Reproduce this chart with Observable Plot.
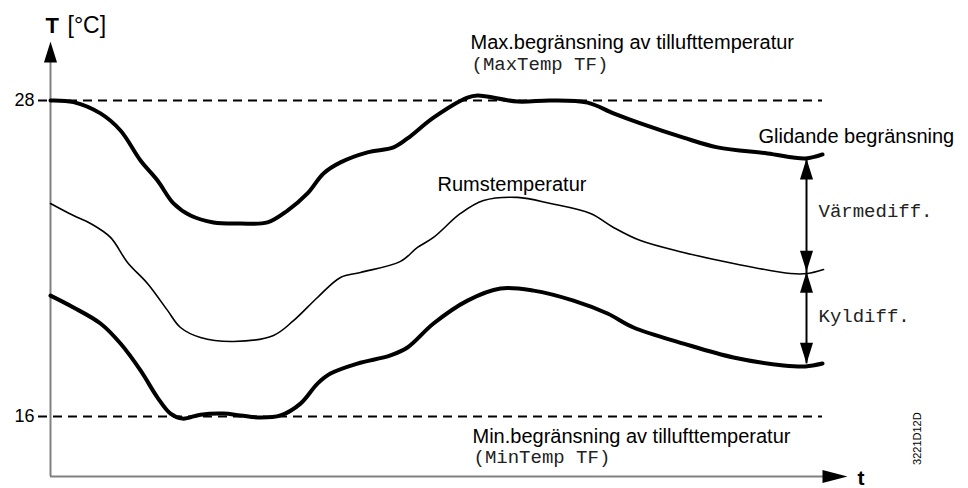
<!DOCTYPE html>
<html>
<head>
<meta charset="utf-8">
<script src="https://cdn.jsdelivr.net/npm/d3@7"></script>
<script src="https://cdn.jsdelivr.net/npm/@observablehq/plot@0.6"></script>
<style>
  body { margin: 0; background: #fff; }
  #chart svg { display: block; }
</style>
</head>
<body>
<div id="chart"></div>
<script>
// ---- Data (time t in arbitrary units, temperature T in °C) ----
const upperTime = [0, 2.3, 5.0, 7.0, 9.0, 10.7, 12.3, 14.0, 16.3, 19.0, 21.7, 23.7, 25.7, 27.3, 29.0, 31.7, 34.3, 35.7, 38.3, 41.7, 42.7, 46.7, 50.0, 53.7, 56.3, 59.0, 63.3, 66.7, 71.7, 75.5, 77.2];
const upperTemp = [28.0, 27.94, 27.51, 26.86, 25.72, 24.96, 24.09, 23.63, 23.37, 23.33, 23.37, 23.82, 24.47, 25.23, 25.65, 26.03, 26.22, 26.56, 27.35, 28.11, 28.19, 27.96, 28.0, 27.92, 27.51, 27.13, 26.59, 26.22, 25.99, 25.80, 25.95];

const roomTime = [0, 2.3, 4.0, 6.0, 7.7, 9.7, 11.7, 13.0, 15.0, 18.3, 22.3, 24.3, 26.7, 29.0, 31.0, 35.0, 36.7, 38.3, 41.0, 43.3, 46.7, 50.0, 54.0, 56.3, 59.0, 63.3, 68.3, 74.0, 75.7, 77.3];
const roomTemp = [24.09, 23.63, 23.33, 22.80, 21.85, 21.05, 20.03, 19.38, 19.00, 18.85, 19.08, 19.64, 20.52, 21.28, 21.47, 21.89, 22.42, 22.80, 23.71, 24.20, 24.32, 24.09, 23.71, 23.18, 22.68, 22.23, 21.81, 21.43, 21.43, 21.58];

const lowerTime = [0, 2.3, 5.0, 7.0, 9.0, 10.7, 12.0, 13.2, 15.0, 17.3, 19.0, 21.0, 23.0, 25.0, 26.7, 28.0, 30.7, 34.0, 35.7, 38.3, 41.7, 45.0, 48.3, 52.3, 55.7, 58.3, 63.3, 68.3, 73.3, 75.5, 77.2];
const lowerTemp = [20.59, 20.14, 19.53, 18.77, 17.75, 16.72, 16.11, 15.92, 16.07, 16.11, 16.04, 15.96, 16.04, 16.49, 17.25, 17.63, 18.01, 18.32, 18.62, 19.53, 20.40, 20.86, 20.78, 20.40, 19.91, 19.38, 18.77, 18.24, 17.94, 17.90, 18.01];

const limitTemps = [16, 28];          // MinTemp TF / MaxTemp TF
const yTickLabels = [16, 28];
const diffArrowTime = 75.6;
const diffArrowTemps = [25.8, 21.5, 18.0]; // upper limit, room temp, lower limit

const labelMax = "Max.begränsning av tillufttemperatur";
const labelMaxParam = "(MaxTemp TF)";
const labelMin = "Min.begränsning av tillufttemperatur";
const labelMinParam = "(MinTemp TF)";
const labelSliding = "Glidande begränsning";
const labelRoom = "Rumstemperatur";
const labelHeat = "Värmediff.";
const labelCool = "Kyldiff.";
const labelYAxisBold = "T";
const labelYAxisUnit = "[°C]";
const labelXAxis = "t";
const labelDocId = "3221D12D";

// ---- Build tables ----
const thickRows = [
  ...upperTime.map((t, i) => ({series: "upper", t, T: upperTemp[i]})),
  ...lowerTime.map((t, i) => ({series: "lower", t, T: lowerTemp[i]}))
];
const roomRows = roomTime.map((t, i) => ({t, T: roomTemp[i]}));

// ---- Arrowhead symbols (tip at anchor) ----
const arrowUp = {draw(c) { c.moveTo(0, 0); c.lineTo(6.5, 21); c.lineTo(-6.5, 21); c.closePath(); }};
const arrowDown = {draw(c) { c.moveTo(0, 0); c.lineTo(6.5, -21); c.lineTo(-6.5, -21); c.closePath(); }};
const arrowRight = {draw(c) { c.moveTo(0, 0); c.lineTo(-25, 6.5); c.lineTo(-25, -6.5); c.closePath(); }};

const sans = "'Liberation Sans', Arial, sans-serif";
const mono = "'Liberation Mono', 'Courier New', monospace";

const chart = Plot.plot({
  width: 968,
  height: 488,
  marginLeft: 50,
  marginRight: 0,
  marginTop: 0,
  marginBottom: 0,
  x: {domain: [0, 79], range: [50, 840], axis: null},
  y: {domain: [16, 28], range: [416, 100], axis: null},
  style: {fontFamily: sans, background: "#fff", color: "#000", overflow: "visible"},
  marks: [
    // dashed limit lines
    Plot.ruleY(limitTemps, {x1: -1.2, x2: 77.2, stroke: "#000", strokeWidth: 2, strokeDasharray: "9,6"}),
    // axis lines
    Plot.ruleX([0], {y1: 13.72, y2: 30.0, stroke: "#808080", strokeWidth: 2}),
    Plot.ruleY([13.72], {x1: 0, x2: 79.2, stroke: "#808080", strokeWidth: 2}),
    Plot.dot([{t: 0, T: 30.24}], {x: "t", y: "T", symbol: arrowUp, fill: "#000", stroke: null}),
    Plot.dot([{t: 79.7, T: 13.72}], {x: "t", y: "T", symbol: arrowRight, fill: "#000", stroke: null}),
    // y tick labels
    Plot.axisY(yTickLabels, {anchor: "left", tickSize: 0, tickPadding: 16, fontSize: 18, label: null, fill: "#000"}),
    // curves
    Plot.line(thickRows, {x: "t", y: "T", z: "series", stroke: "#000", strokeWidth: 4, curve: "catmull-rom", strokeLinejoin: "round", strokeLinecap: "round"}),
    Plot.line(roomRows, {x: "t", y: "T", stroke: "#000", strokeWidth: 1.6, curve: "catmull-rom"}),
    // difference arrows
    Plot.ruleX([diffArrowTime], {y1: diffArrowTemps[0], y2: diffArrowTemps[2], stroke: "#000", strokeWidth: 2}),
    Plot.dot([diffArrowTemps[0], diffArrowTemps[1]], {x: () => diffArrowTime, y: d => d, symbol: arrowUp, fill: "#000", stroke: null}),
    Plot.dot([diffArrowTemps[1], diffArrowTemps[2]], {x: () => diffArrowTime, y: d => d, symbol: arrowDown, fill: "#000", stroke: null}),
    // texts
    Plot.text([labelYAxisBold], {x: -0.5, y: 30.58, text: d => d, textAnchor: "start", lineAnchor: "bottom", fontSize: 22, fontWeight: "bold", fill: "#000"}),
    Plot.text([labelYAxisUnit], {x: 1.7, y: 30.58, text: d => d, textAnchor: "start", lineAnchor: "bottom", fontSize: 23, fill: "#000"}),
    Plot.text([labelMax], {x: 42.0, y: 29.97, text: d => d, textAnchor: "start", lineAnchor: "bottom", fontSize: 20, fill: "#000"}),
    Plot.text([labelMaxParam], {x: 42.1, y: 29.14, text: d => d, textAnchor: "start", lineAnchor: "bottom", fontSize: 19, fontFamily: mono, fill: "#222"}),
    Plot.text([labelSliding], {x: 70.8, y: 26.37, text: d => d, textAnchor: "start", lineAnchor: "bottom", fontSize: 20, fill: "#000"}),
    Plot.text([labelRoom], {x: 38.7, y: 24.58, text: d => d, textAnchor: "start", lineAnchor: "bottom", fontSize: 20, fill: "#000"}),
    Plot.text([labelHeat], {x: 76.8, y: 23.56, text: d => d, textAnchor: "start", lineAnchor: "bottom", fontSize: 19, fontFamily: mono, fill: "#222"}),
    Plot.text([labelCool], {x: 76.8, y: 19.57, text: d => d, textAnchor: "start", lineAnchor: "bottom", fontSize: 19, fontFamily: mono, fill: "#222"}),
    Plot.text([labelMin], {x: 42.2, y: 15.01, text: d => d, textAnchor: "start", lineAnchor: "bottom", fontSize: 20, fill: "#000"}),
    Plot.text([labelMinParam], {x: 42.3, y: 14.25, text: d => d, textAnchor: "start", lineAnchor: "bottom", fontSize: 19, fontFamily: mono, fill: "#222"}),
    Plot.text([labelXAxis], {x: 80.7, y: 13.40, text: d => d, textAnchor: "start", lineAnchor: "bottom", fontSize: 21, fontWeight: "bold", fill: "#000"}),
    Plot.text([labelDocId], {x: 87.0, y: 15.16, text: d => d, textAnchor: "middle", lineAnchor: "bottom", rotate: -90, fontSize: 11, fill: "#000"})
  ]
});
document.getElementById("chart").appendChild(chart);
</script>
</body>
</html>
